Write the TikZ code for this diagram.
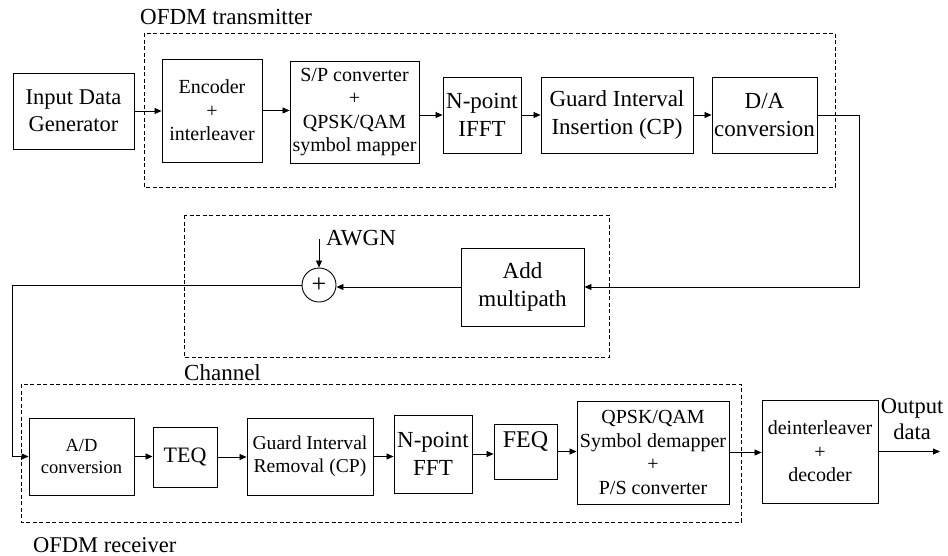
\documentclass[tikz,border=0pt]{standalone}
\usepackage{fontspec}
\setmainfont{Liberation Serif}
\usetikzlibrary{arrows.meta,calc}
\begin{document}
\begin{tikzpicture}[x=1pt,y=-1pt,
  blk/.style={draw,line width=0.9pt,align=center,inner sep=0pt},
  fa/.style={font=\fontsize{18.5}{22.5}\selectfont},
  fb/.style={font=\fontsize{20}{23.5}\selectfont},
  fc/.style={font=\fontsize{22.5}{27}\selectfont},
  fd/.style={font=\fontsize{23}{28}\selectfont},
  fe/.style={font=\fontsize{24}{28}\selectfont},
  arr/.style={line width=0.8pt,-{Triangle[length=7pt,width=6pt]}},
  ln/.style={line width=0.8pt},
  grp/.style={line width=0.8pt,dash pattern=on 4pt off 2.5pt}]
\useasboundingbox (0,0) rectangle (948,555);
% group frames
\draw[grp] (144,33) rectangle (835,187);
\draw[grp] (184,215) rectangle (609,357);
\draw[grp] (21,384) rectangle (741,522);
\node[fd,anchor=base west,inner sep=0pt] (ltx) at (140,24) {OFDM transmitter};
\node[fd,anchor=base west,inner sep=0pt] (lch) at (184,380) {Channel};
\node[fc,anchor=base west,inner sep=0pt] (lrx) at (33,552) {OFDM receiver};
% transmitter
\node[blk,fc,minimum width=121,minimum height=76] (inp) at (73.5,111) {Input Data\\Generator};
\node[blk,fb,minimum width=100,minimum height=103] (enc) at (212,110.5) {Encoder\\+\\interleaver};
\node[blk,fb,minimum width=129,minimum height=102] (sp) at (354.5,112) {S/P converter\\+\\QPSK/QAM\\symbol mapper};
\node[blk,fd,minimum width=78,minimum height=76] (ifft) at (482,115) {N-point\\IFFT};
\node[blk,fd,minimum width=152,minimum height=76] (gi) at (617,115) {Guard Interval\\Insertion (CP)};
\node[blk,fd,minimum width=105,minimum height=76] (da) at (764.5,115) {D/A\\conversion};
% channel
\node[blk,fd,minimum width=123,minimum height=78] (am) at (522.5,287) {Add\\multipath};
\node[draw,circle,line width=0.9pt,minimum size=34,inner sep=0pt,font=\fontsize{26}{28}\selectfont] (sum) at (319,285) {+};
\node[fd,anchor=base west,inner sep=0pt] (awgn) at (326,245) {AWGN};
\coordinate (awgnin) at (319,239);
% receiver
\node[blk,fa,minimum width=105,minimum height=77] (ad) at (81.5,456.5) {A/D\\conversion};
\node[blk,font=\fontsize{22}{26}\selectfont,minimum width=64,minimum height=60] (teq) at (185,457) {TEQ};
\node[blk,font=\fontsize{19.6}{23.5}\selectfont,minimum width=126,minimum height=77] (gr) at (310,456.5) {Guard Interval\\Removal (CP)};
\node[blk,fd,minimum width=78,minimum height=78] (fft) at (433,454) {N-point\\FFT};
\node[blk,minimum width=63,minimum height=55] (feq) at (525.5,451.5) {};
\node[fe,anchor=base,inner sep=0pt,yshift=-24pt] (feqt) at (feq.north) {FEQ};
\node[blk,fb,minimum width=152,minimum height=103] (dem) at (653,452.5) {QPSK/QAM\\Symbol demapper\\+\\P/S converter};
\node[blk,fb,minimum width=116,minimum height=103] (dei) at (820,451.5) {deinterleaver\\+\\decoder};
\node[align=center,inner sep=0pt,font=\fontsize{22.5}{26}\selectfont] (out) at (912,419) {Output\\data};
\coordinate (outend) at (940,452);
\coordinate (rt) at (859,112);
\coordinate (lft) at (12,285);
% connectors
\draw[arr] (inp.east) -- (inp.east -| enc.west);
\draw[arr] (enc.east) -- (enc.east -| sp.west);
\draw[arr] (sp.east |- ifft.east) -- (ifft.west);
\draw[arr] (ifft.east) -- (gi.west);
\draw[arr] (gi.east) -- (da.west);
\draw[arr] (da.east) -- (da.east -| rt) |- (am.east);
\draw[arr] (am.west) -- (am.west -| sum.east);
\draw[arr] (awgnin) -- (sum.north);
\draw[arr] (sum.west) -- (lft) |- (ad.west);
\draw[arr] (ad.east) -- (ad.east -| teq.west);
\draw[arr] (teq.east) -- (teq.east -| gr.west);
\draw[arr] (gr.east) -- (gr.east -| fft.west);
\draw[arr] (fft.east) -- (fft.east -| feq.west);
\draw[arr] (feq.east) -- (feq.east -| dem.west);
\draw[arr] (dem.east) -- (dem.east -| dei.west);
\draw[arr] (dei.east) -- (dei.east -| outend);
\end{tikzpicture}
\end{document}
